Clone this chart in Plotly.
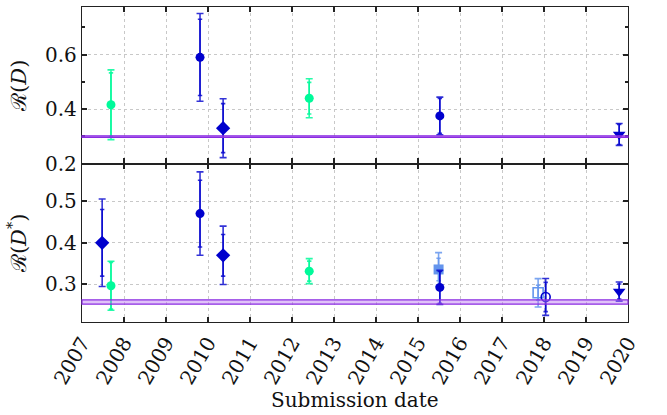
import plotly.graph_objects as go
from plotly.subplots import make_subplots

# ---------------- data ----------------
# R(D) measurements
rd_x = [2007.69, 2009.81, 2010.36, 2012.41, 2015.52, 2019.79]
rd_val = [0.416, 0.59, 0.33, 0.440, 0.375, 0.307]
rd_stat = [0.117, 0.14, 0.09, 0.058, 0.064, 0.037]
rd_syst = [0.052, 0.08, 0.06, 0.042, 0.026, 0.016]
rd_style = ["babar", "belle_c", "belle_d", "babar", "belle_c", "belle_t"]

# R(D*) measurements
rds_x = [2007.48, 2007.69, 2009.81, 2010.36, 2012.41, 2015.49, 2015.52, 2017.86, 2018.04, 2019.79]
rds_val = [0.40, 0.297, 0.47, 0.37, 0.332, 0.336, 0.293, 0.280, 0.270, 0.283]
rds_stat = [0.08, 0.056, 0.08, 0.05, 0.024, 0.027, 0.038, 0.018, 0.035, 0.018]
rds_syst = [0.068, 0.018, 0.06, 0.049, 0.018, 0.030, 0.015, 0.029, 0.027, 0.014]
rds_style = ["belle_d", "babar", "belle_c", "belle_d", "babar", "lhcb_s", "belle_c",
             "lhcb_os", "belle_oc", "belle_t"]

# SM predictions
sm_rd, sm_rd_err = 0.299, 0.003
sm_rds, sm_rds_err = 0.258, 0.005

years = list(range(2007, 2021))

# ---------------- styles ----------------
BLUE = "#0000CD"
GREEN = "#00FA9A"
LBLUE = "#6495ED"
STYLES = {
    "babar": dict(color=GREEN, symbol="circle", ecol="rgba(0,250,154,0.85)"),
    "belle_c": dict(color=BLUE, symbol="circle", ecol="rgba(0,0,205,0.8)"),
    "belle_d": dict(color=BLUE, symbol="diamond", ecol="rgba(0,0,205,0.8)"),
    "belle_t": dict(color=BLUE, symbol="triangle-down", ecol="rgba(0,0,205,0.8)"),
    "belle_oc": dict(color=BLUE, symbol="circle-open", ecol="rgba(0,0,205,0.8)"),
    "lhcb_s": dict(color=LBLUE, symbol="square", ecol="rgba(100,149,237,0.85)"),
    "lhcb_os": dict(color=LBLUE, symbol="square-open", ecol="rgba(100,149,237,0.85)"),
}
SIZES = {"circle": 9, "diamond": 11, "triangle-down": 11, "circle-open": 9,
         "square": 10, "square-open": 10}

FONT = "DejaVu Serif"

fig = make_subplots(rows=2, cols=1, shared_xaxes=True, vertical_spacing=0,
                    row_heights=[0.497, 0.503])


def add_points(xs, vals, stats, systs, styles, row):
    for x, v, st, sy, s in zip(xs, vals, stats, systs, styles):
        sd = STYLES[s]
        tot = (st ** 2 + sy ** 2) ** 0.5
        # total error
        fig.add_trace(go.Scatter(
            x=[x], y=[v], mode="markers", marker=dict(size=1, opacity=0),
            error_y=dict(type="data", array=[tot], color=sd["ecol"], thickness=1.6, width=3.5),
            showlegend=False, hoverinfo="skip"), row=row, col=1)
        # stat error
        fig.add_trace(go.Scatter(
            x=[x], y=[v], mode="markers",
            marker=dict(size=SIZES[sd["symbol"]], color=sd["color"], symbol=sd["symbol"],
                        line=dict(width=1.6 if "open" in sd["symbol"] else 0, color=sd["color"])),
            error_y=dict(type="data", array=[st], color=sd["ecol"], thickness=1.6, width=2.2),
            showlegend=False), row=row, col=1)


add_points(rd_x, rd_val, rd_stat, rd_syst, rd_style, 1)
add_points(rds_x, rds_val, rds_stat, rds_syst, rds_style, 2)

# SM bands
for row, c, e in [(1, sm_rd, sm_rd_err), (2, sm_rds, sm_rds_err)]:
    fig.add_hrect(y0=c - e, y1=c + e, fillcolor="rgba(186,120,240,0.45)",
                  line=dict(color="#8A2BE2", width=1.2), layer="above",
                  row=row, col=1, exclude_empty_subplots=False)

axis_common = dict(showline=True, linecolor="#222", linewidth=1.3, mirror="ticks",
                   ticks="inside", ticklen=5, tickwidth=1.5, tickcolor="#222",
                   showgrid=True, gridcolor="#c8c8c8", griddash="dot", gridwidth=1,
                   zeroline=False, tickfont=dict(family=FONT, size=20, color="#111"))

fig.update_xaxes(range=[2007, 2020], tickvals=years, ticktext=[str(y) for y in years],
                 **axis_common)
fig.update_xaxes(showticklabels=False, row=1, col=1)
fig.update_xaxes(tickangle=-60, row=2, col=1)

fig.update_yaxes(**axis_common)
fig.update_yaxes(range=[0.2, 0.775], tickvals=[0.2, 0.4, 0.6], row=1, col=1,
                 minor=dict(tickvals=[0.3, 0.5, 0.7], ticks="inside", ticklen=3,
                            tickcolor="#222", showgrid=False),
                 title=dict(text="ℛ(<i>D</i>)", font=dict(family=FONT, size=21, color="#111"),
                            standoff=12))
fig.update_yaxes(range=[0.21, 0.59], tickvals=[0.3, 0.4, 0.5], row=2, col=1,
                 title=dict(text="ℛ(<i>D</i><sup>*</sup>)",
                            font=dict(family=FONT, size=21, color="#111"), standoff=12))

fig.add_annotation(text="Submission date", xref="paper", yref="paper", x=0.5, y=0,
                   xanchor="center", yanchor="top", yshift=-64, showarrow=False,
                   font=dict(family=FONT, size=20, color="#111"))

fig.update_layout(width=667, height=415, margin=dict(l=82, r=39, t=7, b=93),
                  plot_bgcolor="white", paper_bgcolor="white",
                  font=dict(family=FONT), showlegend=False)

fig.write_html("out.html", config={"displayModeBar": False},
               post_script="document.body.style.margin='0';")
